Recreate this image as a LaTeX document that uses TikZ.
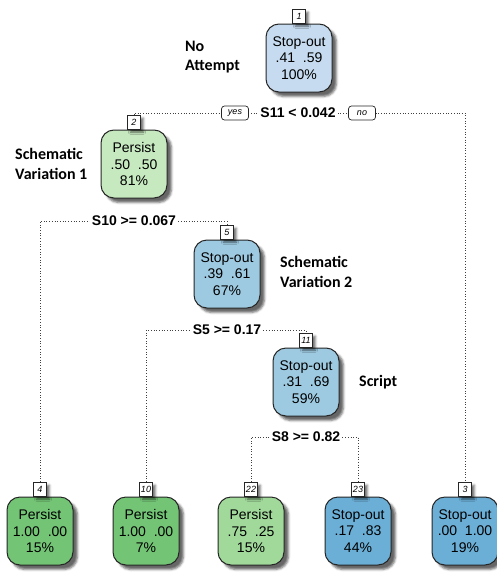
\documentclass[tikz,border=0pt]{standalone}
\usepackage{fontspec}
\setmainfont{Liberation Sans}
\newfontfamily\notefont{Carlito}
\usetikzlibrary{positioning,shadows.blur,backgrounds}

\definecolor{blueA}{HTML}{C6DBEF}
\definecolor{blueB}{HTML}{9ECAE1}
\definecolor{blueC}{HTML}{6BAED6}
\definecolor{greenA}{HTML}{C7E9C0}
\definecolor{greenB}{HTML}{A1D99B}
\definecolor{greenC}{HTML}{74C476}

\begin{document}
\begin{tikzpicture}[x=1pt,y=1pt,
            box/.style={draw=black!85,line width=1pt,rounded corners=13pt,minimum width=66pt,minimum height=68pt,
                align=center,inner sep=0pt,font=\fontsize{14}{16.5}\selectfont,
                blur shadow={shadow xshift=4.5pt,shadow yshift=-4.5pt,shadow opacity=60}},
            tag/.style={draw=black!85,line width=0.7pt,fill=white,minimum width=13pt,minimum height=14pt,inner sep=1pt,
                font=\fontsize{9}{9}\selectfont\itshape,
                blur shadow={shadow xshift=3pt,shadow yshift=-3pt,shadow opacity=55}},
            split/.style={fill=white,inner sep=2pt,font=\fontsize{14}{14}\selectfont\bfseries},
            yesno/.style={draw=black!85,line width=0.7pt,fill=white,rounded corners=3pt,minimum width=27pt,minimum height=14pt,
                inner sep=1pt,font=\fontsize{9}{9}\selectfont\itshape},
            note/.style={anchor=west,align=left,inner sep=0pt,font=\notefont\bfseries\fontsize{16}{19.5}\selectfont},
            link/.style={dotted,line width=0.7pt,black!75}]
                \useasboundingbox (0,0) rectangle (496,-573);
                % inner nodes
                \node[box,fill=blueA](n1) at (299,-58) {Stop-out\\.41\ \ .59\\100\%};
                \node[box,fill=greenA](n2) at (134,-164) {Persist\\.50\ \ .50\\81\%};
                \node[box,fill=blueB](n5) at (227,-274) {Stop-out\\.39\ \ .61\\67\%};
                \node[box,fill=blueB](n11) at (306,-382) {Stop-out\\.31\ \ .69\\59\%};
                % leaves
                \node[box,fill=greenC](n4) at (40,-531) {Persist\\1.00\ \ .00\\15\%};
                \node[box,fill=greenC](n10) at (146,-531) {Persist\\1.00\ \ .00\\7\%};
                \node[box,fill=greenB](n22) at (251,-531) {Persist\\.75\ \ .25\\15\%};
                \node[box,fill=blueC](n23) at (358,-531) {Stop-out\\.17\ \ .83\\44\%};
                \node[box,fill=blueC](n3) at (465,-531) {Stop-out\\.00\ \ 1.00\\19\%};
                % node numbers
                \node[tag,above=0pt of n1](t1) {1};
                \node[tag,above=0pt of n2](t2) {2};
                \node[tag,above=0pt of n5](t5) {5};
                \node[tag,above=0pt of n11](t11) {11};
                \node[tag,above=0pt of n4](t4) {4};
                \node[tag,above=0pt of n10](t10) {10};
                \node[tag,above=0pt of n22](t22) {22};
                \node[tag,above=0pt of n23](t23) {23};
                \node[tag,above=0pt of n3](t3) {3};
                % splits
                \node[split](s1) at (298,-113) {S11 < 0.042};
                \node[yesno](yes) at (235,-113) {yes};
                \node[yesno](no) at (362,-113) {no};
                \node[split](s2) at (134,-221) {S10 >= 0.067};
                \node[split](s5) at (227,-330) {S5 >= 0.17};
                \node[split](s11) at (306,-437) {S8 >= 0.82};
                % side notes
                \node[note](a1) at (185,-57) {No\\Attempt};
                \node[note](a2) at (15,-164) {Schematic\\Variation 1};
                \node[note](a5) at (280,-272) {Schematic\\Variation 2};
                \node[note](a11) at (359,-382) {Script};
                \begin{scope}[on background layer]
                \draw[link] (t2.north) |- (s1) -| (t3.north);
                \draw[link] (t4.north) |- (s2) -| (t5.north);
                \draw[link] (t10.north) |- (s5) -| (t11.north);
                \draw[link] (t22.north) |- (s11) -| (t23.north);
                \end{scope}
        \end{tikzpicture}
\end{document}
